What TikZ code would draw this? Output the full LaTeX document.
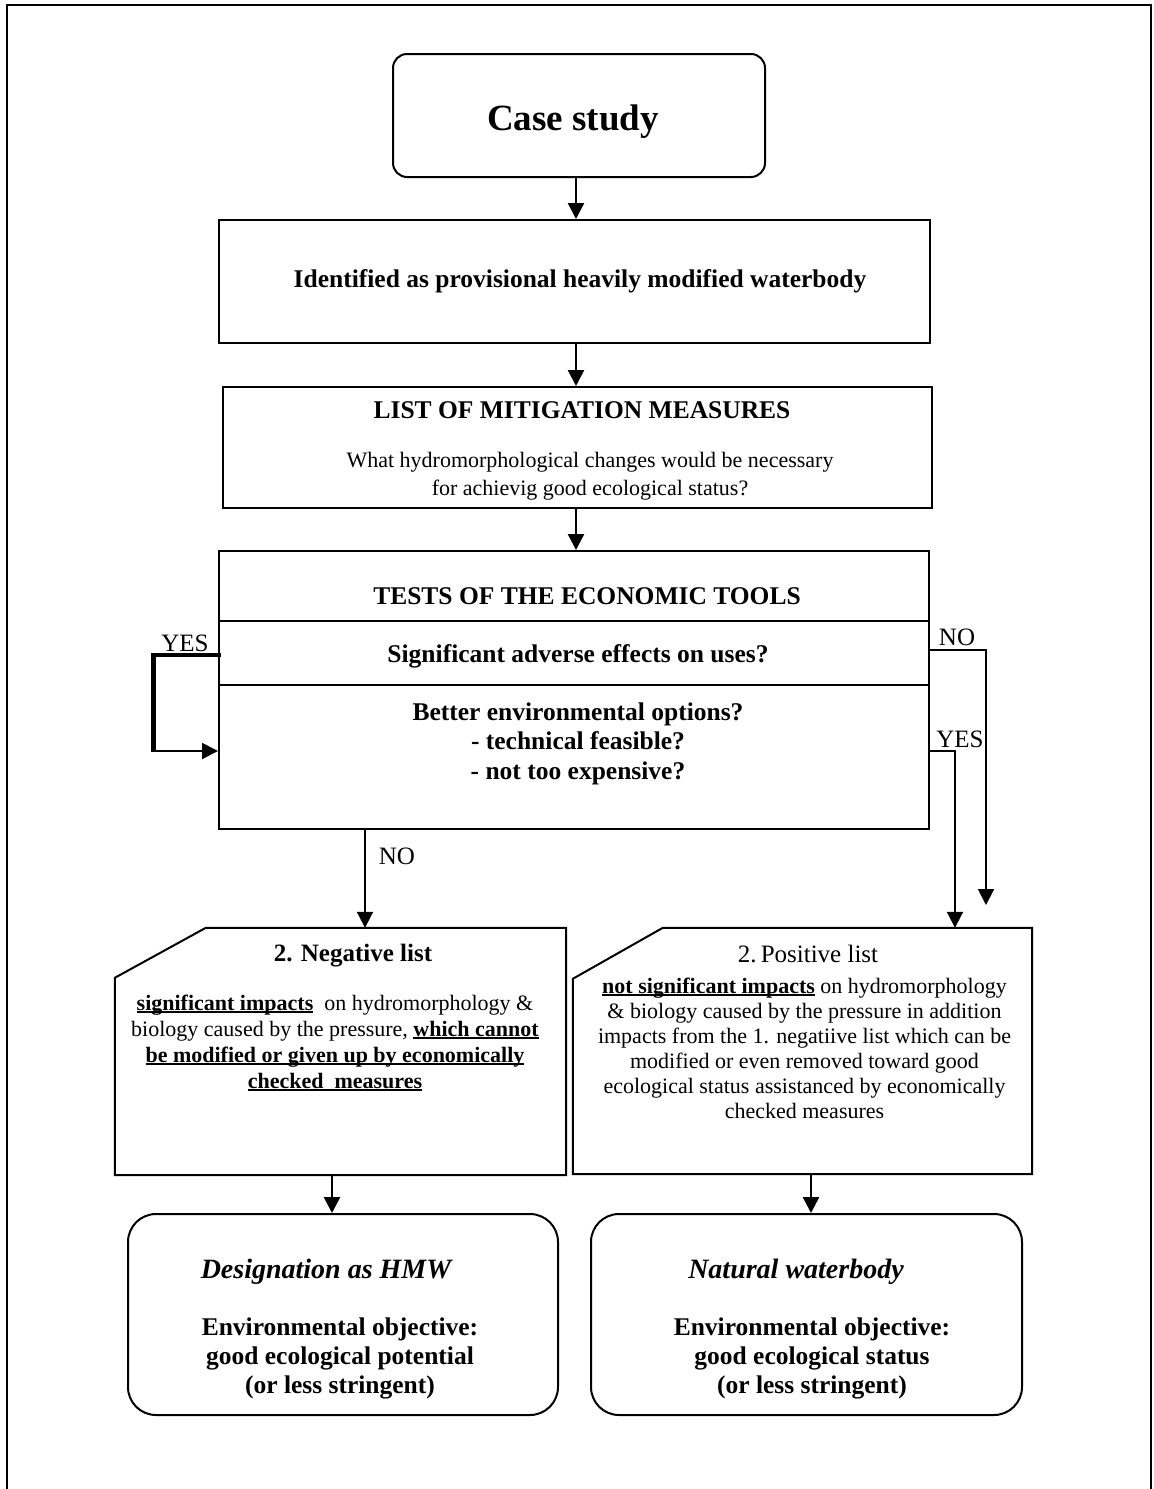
\documentclass[tikz,border=0pt]{standalone}
\usepackage{fontspec}
\setmainfont{Liberation Serif}
\usetikzlibrary{arrows.meta,calc}
\newcommand\myul[1]{\setbox0=\hbox{#1}\rlap{\rule[-2.5pt]{\wd0}{1.5pt}}\box0\relax}
\begin{document}
\begin{tikzpicture}[x=1pt,y=-1pt,
  frameline/.style={line width=2.5pt},
  boxline/.style={draw, line width=2pt, inner sep=0pt},
  conn/.style={line width=2.5pt, -{Triangle[length=16pt,width=16pt]}},
  thinconn/.style={line width=2pt, -{Triangle[length=16pt,width=16pt]}},
  txt/.style={inner sep=0pt, align=center, anchor=base},
  ttl/.style={txt, font=\fontsize{25.5}{29.5}\selectfont\bfseries},
  bodytxt/.style={txt, font=\fontsize{22}{25}\selectfont},
  lbl/.style={txt, font=\fontsize{25}{29}\selectfont},
]
\useasboundingbox (0,0) rectangle (1154,1489);
% outer frame
\draw[frameline] (7,1489) -- (7,5) -- (1151,5) -- (1151,1489);

% helper x positions
\coordinate (ax) at (576,0);
\coordinate (nox) at (365,0);
\coordinate (negx) at (332,0);
\coordinate (posx) at (811,0);
\coordinate (yesrx) at (955,0);
\coordinate (norx) at (986,0);
\coordinate (yeslx) at (153,0);

% boxes
\node[boxline, rounded corners=14pt, minimum width=372pt, minimum height=123pt] (cs) at (579,115.5) {};
\node[boxline, minimum width=711pt, minimum height=123pt] (idb) at (574.5,281.5) {};
\node[boxline, minimum width=709pt, minimum height=121pt] (mit) at (577.5,447.5) {};
\node[boxline, minimum width=710pt, minimum height=278pt] (tests) at (574,690) {};
\coordinate (sep1) at (0,621);
\coordinate (sep2) at (0,685);
\draw[line width=2pt] (tests.west |- sep1) -- (tests.east |- sep1);
\draw[line width=2pt] (tests.west |- sep2) -- (tests.east |- sep2);

% cards (chamfered top-left corner)
\node[inner sep=0pt, minimum width=451pt, minimum height=247pt] (neg) at (340.5,1051.5) {};
\draw[line width=2pt] ($(neg.north west)+(0,50)$) -- ($(neg.north west)+(91,0)$) -- (neg.north east) -- (neg.south east) -- (neg.south west) -- cycle;
\node[inner sep=0pt, minimum width=459pt, minimum height=246pt] (pos) at (802.5,1051) {};
\draw[line width=2pt] ($(pos.north west)+(0,51)$) -- ($(pos.north west)+(90,0)$) -- (pos.north east) -- (pos.south east) -- (pos.south west) -- cycle;

% result boxes
\node[boxline, rounded corners=28pt, minimum width=430pt, minimum height=201pt] (hmw) at (343,1314.5) {};
\node[boxline, rounded corners=28pt, minimum width=431pt, minimum height=201pt] (nat) at (806.5,1314.5) {};

% texts
\node[txt, font=\fontsize{37}{40}\selectfont\bfseries] (cst) at (573,130) {Case study};
\node[ttl] (idbt) at (580,287) {Identified as provisional heavily modified waterbody};
\node[ttl] (mitt) at (582,418) {LIST OF MITIGATION MEASURES};
\node[bodytxt, font=\fontsize{22}{28}\selectfont] (mitb) at (590,495) {What hydromorphological changes would be necessary\\for achievig good ecological status?};
\node[ttl] (testt) at (587,604) {TESTS OF THE ECONOMIC TOOLS};
\node[ttl] (sigt) at (578,662) {Significant adverse effects on uses?};
\node[ttl] (bett) at (578,779) {Better environmental options?\\- technical feasible?\\- not too expensive?};

\node[txt, font=\fontsize{25}{28}\selectfont\bfseries] (negt) at (353,961) {2. Negative list};
\node[bodytxt, font=\fontsize{22}{26}\selectfont] (negb) at (335,1088) {\myul{\textbf{significant impacts}}\ \ on hydromorphology \&\\biology caused by the pressure, \myul{\textbf{which cannot}}\\\myul{\textbf{be modified or given up by economically}}\\\myul{\textbf{checked\ \ measures}}};
\node[txt, font=\fontsize{25}{28}\selectfont] (post) at (808,962) {2.\,Positive list};
\node[bodytxt] (posb) at (804.5,1118) {\myul{\textbf{not significant impacts}} on hydromorphology\\\& biology caused by the pressure in addition\\impacts from the 1. negatiive list which can be\\modified or even removed toward good\\ecological status assistanced by economically\\checked measures};

\node[txt, font=\fontsize{28}{30}\selectfont\bfseries\itshape] (hmwt) at (326,1278) {Designation as HMW};
\node[ttl, font=\fontsize{25.5}{29}\selectfont\bfseries] (hmwb) at (340,1393) {Environmental objective:\\good ecological potential\\(or less stringent)};
\node[txt, font=\fontsize{28}{30}\selectfont\bfseries\itshape] (natt) at (796,1278) {Natural waterbody};
\node[ttl, font=\fontsize{25.5}{29}\selectfont\bfseries] (natb) at (812,1393) {Environmental objective:\\good ecological status\\(or less stringent)};

% labels
\node[lbl] (yesl) at (185,651) {YES};
\node[lbl] (nor) at (957,645) {NO};
\node[lbl] (yesr) at (960,747) {YES};
\node[lbl] (nob) at (397,864) {NO};

% connectors
\draw[conn] (cs.south -| ax) -- (idb.north -| ax);
\draw[conn] (idb.south -| ax) -- (mit.north -| ax);
\draw[conn] (mit.south -| ax) -- (tests.north -| ax);
\coordinate (yesly) at (0,655);
\coordinate (betty) at (0,751);
\coordinate (nory) at (0,650);
\coordinate (noend) at (986,905);
\draw[line width=3.5pt] ($(tests.west |- yesly)+(3,0)$) -- (yeslx |- yesly);
\draw[line width=5pt] ($(yeslx |- yesly)+(0,-1.7)$) -- (yeslx |- betty);
\draw[thinconn] ($(yeslx |- betty)+(-2.5,0)$) -- (tests.west |- betty);
\draw[thinconn] (tests.east |- nory) -- (norx |- nory) -- (noend);
\draw[thinconn] (tests.east |- betty) -- (yesrx |- betty) -- (pos.north -| yesrx);
\draw[thinconn] (tests.south -| nox) -- (neg.north -| nox);
\draw[conn] (neg.south -| negx) -- (hmw.north -| negx);
\draw[conn] (pos.south -| posx) -- (nat.north -| posx);
\end{tikzpicture}
\end{document}
